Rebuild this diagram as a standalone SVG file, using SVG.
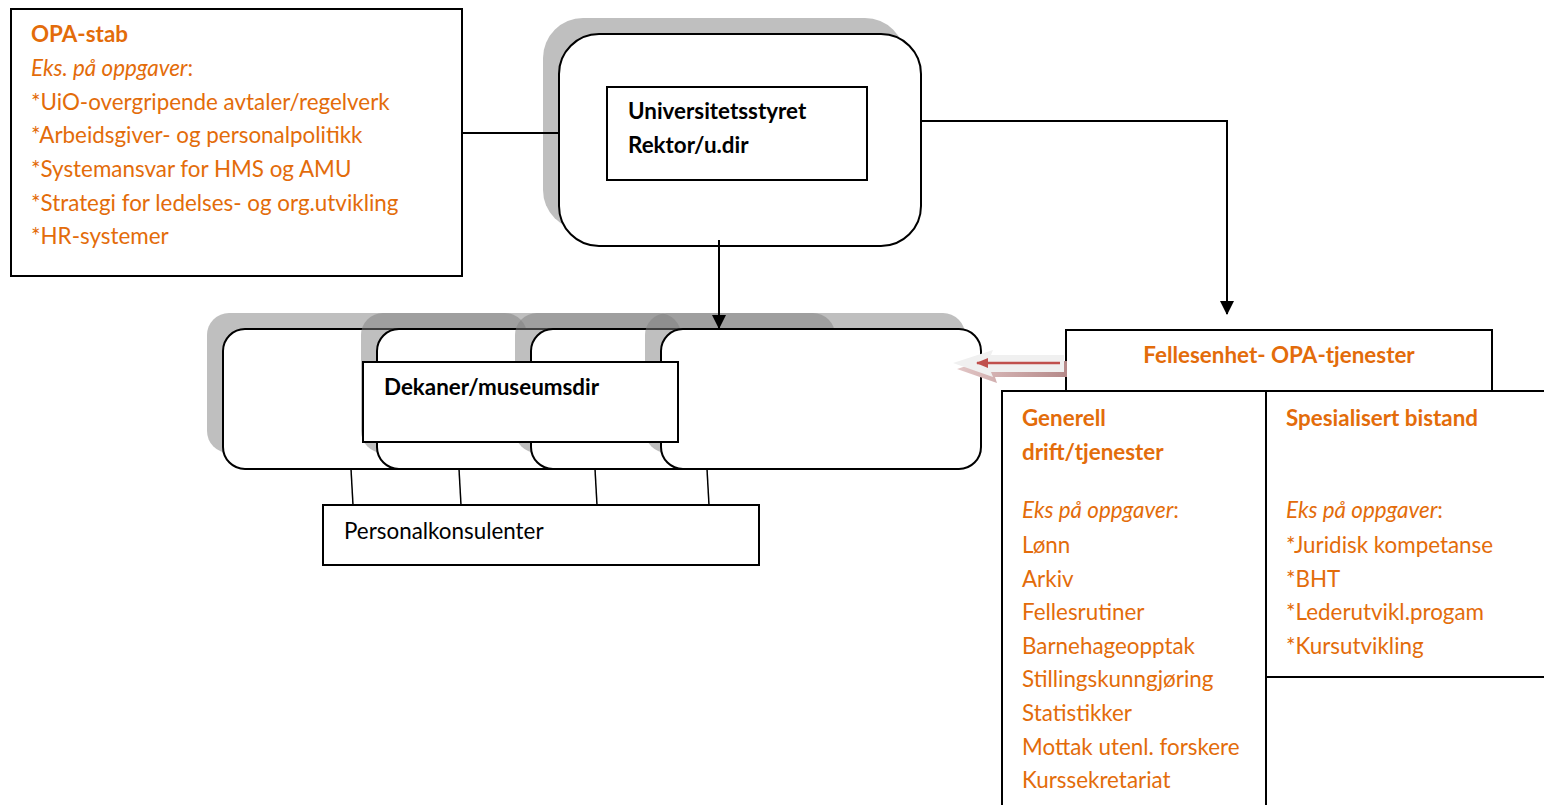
<svg xmlns="http://www.w3.org/2000/svg" width="1544" height="805" viewBox="0 0 1544 805">
<style>
  .t{font-family:Lato,"Noto Sans",sans-serif;font-size:22.4px}
  .o{fill:#E36C0A}
  .k{fill:#000}
  .b{font-weight:bold}
  .i{font-style:italic}
  .box{fill:#fff;stroke:#000;stroke-width:2}
  .sh{fill:#808080;fill-opacity:0.5}
  .ln{stroke:#000;stroke-width:2;fill:none}
</style>
<defs>
  <marker id="ah" markerWidth="14" markerHeight="14" refX="13" refY="7" orient="auto" markerUnits="userSpaceOnUse">
    <path d="M0,0 L14,7 L0,14 Z" fill="#000"/>
  </marker>
  <marker id="rh" markerWidth="12" markerHeight="10" refX="11" refY="5" orient="auto" markerUnits="userSpaceOnUse">
    <path d="M0,0 L12,5 L0,10 Z" fill="#C0504D"/>
  </marker>
  <linearGradient id="sg" x1="0" y1="0" x2="1" y2="0">
    <stop offset="0" stop-color="#E2C6C6"/>
    <stop offset="1" stop-color="#B58989"/>
  </linearGradient>
</defs>

<g id="opa-stab">
  <rect class="box" x="11" y="9" width="451" height="267"/>
  <text class="t o b" x="31" y="42">OPA-stab</text>
  <text class="t o" x="31" y="76"><tspan class="i">Eks. på oppgaver</tspan>:</text>
  <text class="t o" x="31" y="110">*UiO-overgripende avtaler/regelverk</text>
  <text class="t o" x="31" y="143">*Arbeidsgiver- og personalpolitikk</text>
  <text class="t o" x="31" y="177">*Systemansvar for HMS og AMU</text>
  <text class="t o" x="31" y="211">*Strategi for ledelses- og org.utvikling</text>
  <text class="t o" x="31" y="244">*HR-systemer</text>
</g>

<g id="universitetsstyret">
  <rect x="543" y="18" width="362" height="212" rx="40" fill="#BFBFBF"/>
  <rect class="box" x="559" y="34" width="362" height="212" rx="40"/>
  <rect class="box" x="607" y="87" width="260" height="93" stroke-width="1.5"/>
  <text class="t k b" x="628" y="119">Universitetsstyret</text>
  <text class="t k b" x="628" y="153">Rektor/u.dir</text>
</g>

<g id="dekaner">
  <rect class="sh" x="207" y="313" width="320" height="140" rx="22"/>
  <rect class="box" x="223" y="329" width="320" height="140" rx="22"/>
  <rect class="sh" x="361" y="313" width="320" height="140" rx="22"/>
  <rect class="box" x="377" y="329" width="320" height="140" rx="22"/>
  <rect class="sh" x="515" y="313" width="320" height="140" rx="22"/>
  <rect class="box" x="531" y="329" width="320" height="140" rx="22"/>
  <rect class="sh" x="645" y="313" width="320" height="140" rx="22"/>
  <rect class="box" x="661" y="329" width="320" height="140" rx="22"/>
  <rect class="box" x="363" y="362" width="315" height="80"/>
  <text class="t k b" x="384" y="395">Dekaner/museumsdir</text>
</g>

<g id="personalkonsulenter">
  <rect class="box" x="323" y="505" width="436" height="60" stroke-width="1.5"/>
  <text class="t k" x="344" y="539">Personalkonsulenter</text>
</g>

<g id="fellesenhet">
  <rect class="box" x="1066" y="330" width="426" height="61"/>
  <text class="t o b" x="1279" y="363" text-anchor="middle">Fellesenhet- OPA-tjenester</text>
</g>

<g id="tjenester-tabell">
  <path class="ln" d="M1002,805 V391 H1544 M1266,391 V805 M1266,677 H1544"/>
  <text class="t o b" x="1022" y="426">Generell</text>
  <text class="t o b" x="1022" y="460">drift/tjenester</text>
  <text class="t o" x="1022" y="518"><tspan class="i">Eks på oppgaver</tspan>:</text>
  <text class="t o" x="1022" y="553">Lønn</text>
  <text class="t o" x="1022" y="587">Arkiv</text>
  <text class="t o" x="1022" y="620">Fellesrutiner</text>
  <text class="t o" x="1022" y="654">Barnehageopptak</text>
  <text class="t o" x="1022" y="687">Stillingskunngjøring</text>
  <text class="t o" x="1022" y="721">Statistikker</text>
  <text class="t o" x="1022" y="755">Mottak utenl. forskere</text>
  <text class="t o" x="1022" y="788">Kurssekretariat</text>
  <text class="t o b" x="1286" y="426">Spesialisert bistand</text>
  <text class="t o" x="1286" y="518"><tspan class="i">Eks på oppgaver</tspan>:</text>
  <text class="t o" x="1286" y="553">*Juridisk kompetanse</text>
  <text class="t o" x="1286" y="587">*BHT</text>
  <text class="t o" x="1286" y="620">*Lederutvikl.progam</text>
  <text class="t o" x="1286" y="654">*Kursutvikling</text>
</g>

<g id="connectors">
  <line class="ln" x1="462" y1="133" x2="559" y2="133"/>
  <line class="ln" x1="719" y1="240" x2="719" y2="328" marker-end="url(#ah)"/>
  <polyline class="ln" points="921,121 1227,121 1227,314" marker-end="url(#ah)"/>
  <line stroke="#000" stroke-width="1.5" x1="351" y1="469" x2="353" y2="505"/>
  <line stroke="#000" stroke-width="1.5" x1="459" y1="469" x2="461" y2="505"/>
  <line stroke="#000" stroke-width="1.5" x1="595" y1="469" x2="597" y2="505"/>
  <line stroke="#000" stroke-width="1.5" x1="707" y1="469" x2="709" y2="505"/>
</g>

<g id="red-arrow">
  <polygon points="957,369 997,356 995,361 1067,361 1067,377 995,377 997,383" fill="url(#sg)"/>
  <polygon points="953,363 993,350 991,355 1064,355 1064,372 991,372 993,377" fill="#F0F0F0"/>
  <line x1="1060" y1="363" x2="977" y2="363" stroke="#C0504D" stroke-width="2.5" marker-end="url(#rh)"/>
</g>
</svg>
